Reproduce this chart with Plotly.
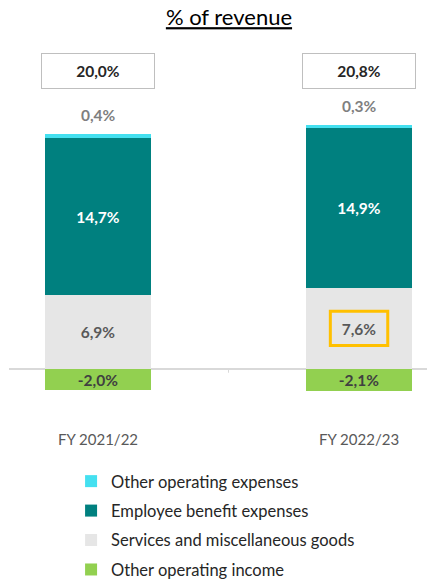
import plotly.graph_objects as go

categories = ["FY 2021/22", "FY 2022/23"]
other_opex = [0.4, 0.3]
employee = [14.7, 14.9]
services = [6.9, 7.6]
other_income = [-2.0, -2.1]
totals = [20.0, 20.8]

FONT = "Lato"
LBL = 15.5
fmt = lambda v: f"{v:.1f}%".replace(".", ",")
xs = list(range(len(categories)))

fig = go.Figure()
bw = 0.406
fig.add_trace(go.Bar(x=xs, y=other_income, name="Other operating income",
                     marker=dict(color="#92D050", line=dict(width=0)), width=bw,
                     text=[fmt(v) for v in other_income], textposition="inside",
                     insidetextanchor="middle", textangle=0, constraintext="none",
                     textfont=dict(color="#404040", size=LBL, family=FONT, weight="bold"),
                     legendrank=4, legendgroup="d"))
fig.add_trace(go.Bar(x=xs, y=services, name="Services and miscellaneous goods",
                     marker=dict(color="#E6E6E6", line=dict(width=0)), width=bw,
                     text=[fmt(v) for v in services], textposition="inside",
                     insidetextanchor="middle", textangle=0,
                     textfont=dict(color="#595959", size=LBL, family=FONT, weight="bold"),
                     legendrank=3, legendgroup="c"))
fig.add_trace(go.Bar(x=xs, y=employee, name="Employee benefit expenses",
                     marker=dict(color="#00807F", line=dict(width=0)), width=bw,
                     text=[fmt(v) for v in employee], textposition="inside",
                     insidetextanchor="middle", textangle=0,
                     textfont=dict(color="white", size=LBL, family=FONT, weight="bold"),
                     legendrank=2, legendgroup="b"))
fig.add_trace(go.Bar(x=xs, y=other_opex, name="Other operating expenses",
                     marker=dict(color="#44E0F0", line=dict(width=0)), width=bw,
                     textposition="none",
                     legendrank=1, legendgroup="a"))

for i in xs:
    top = other_opex[i] + employee[i] + services[i]
    fig.add_annotation(x=i, y=top, xref="x", yref="y", text=fmt(other_opex[i]),
                       showarrow=False, yanchor="bottom", yshift=8,
                       font=dict(color="#7F7F7F", size=LBL, family=FONT, weight="bold"))
    fig.add_annotation(x=i, y=0.9417, xref="x", yref="paper", text=fmt(totals[i]),
                       showarrow=False, width=110, height=32, yanchor="middle",
                       bordercolor="#BFBFBF", borderwidth=1, bgcolor="white",
                       font=dict(color="#262626", size=LBL, family=FONT, weight="bold"))

cy = services[1] / 2
fig.add_shape(type="rect", xref="x", yref="y", x0=0.89, x1=1.11, y0=cy - 1.6, y1=cy + 1.6,
              line=dict(color="#FFC000", width=3), fillcolor="rgba(0,0,0,0)")
fig.add_shape(type="line", xref="x", yref="y", x0=0.5, x1=0.5, y0=0, y1=-0.35,
              line=dict(color="#D9D9D9", width=1))

fig.update_layout(
    width=435, height=583,
    barmode="relative",
    separators=",.",
    plot_bgcolor="white", paper_bgcolor="white",
    margin=dict(l=1, r=8, t=42, b=181, autoexpand=False),
    font=dict(family=FONT),
    title=dict(text="<u>% of revenue</u>", x=0.508, xanchor="center", y=0.997,
               yanchor="top", font=dict(size=22, color="#000000", family=FONT)),
    showlegend=True,
    legend=dict(xref="container", yref="container", x=0.145, y=0.218, xanchor="left",
                yanchor="top", font=dict(size=16.5, color="#262626", family=FONT),
                tracegroupgap=5, bgcolor="rgba(0,0,0,0)"),
    bargap=0,
)
fig.update_xaxes(range=[-0.341, 1.291], tickvals=xs, ticktext=categories,
                 showline=False, ticks="", showgrid=False, zeroline=False,
                 tickfont=dict(size=15, color="#595959", family=FONT),
                 ticklabelstandoff=19)
fig.update_yaxes(range=[-3.83, 29.8], showticklabels=False, showgrid=False,
                 zeroline=True, zerolinecolor="#D9D9D9", zerolinewidth=1.5)

fig.write_html("out.html")
